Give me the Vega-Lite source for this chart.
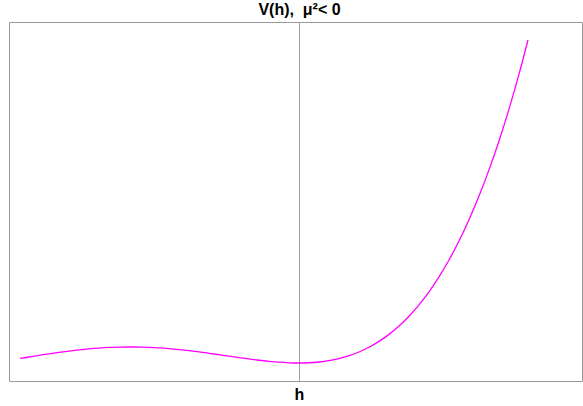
{
  "$schema": "https://vega.github.io/schema/vega-lite/v6.json",
  "autosize": "none",
  "width": 573,
  "height": 359,
  "padding": {"left": 9, "top": 22, "right": 1, "bottom": 25},
  "background": "white",
  "title": {"text": "V(h),\u00a0\u00a0μ²< 0", "font": "Liberation Sans", "fontSize": 16, "fontWeight": "bold", "color": "black", "offset": 4, "anchor": "middle", "dx": 4},
  "config": {"view": {"stroke": "#9a9a9a", "strokeWidth": 1}},
  "data": {"values": [
    {"h": -2.79, "V": 4.54}, {"h": -2.7, "V": 6.0}, {"h": -2.6, "V": 7.62}, {"h": -2.5, "V": 9.18},
    {"h": -2.4, "V": 10.64}, {"h": -2.3, "V": 11.97}, {"h": -2.2, "V": 13.15}, {"h": -2.1, "V": 14.15},
    {"h": -2.0, "V": 14.94}, {"h": -1.9, "V": 15.53}, {"h": -1.8, "V": 15.89}, {"h": -1.7, "V": 16.02},
    {"h": -1.6, "V": 15.93}, {"h": -1.5, "V": 15.61}, {"h": -1.4, "V": 15.07}, {"h": -1.3, "V": 14.33},
    {"h": -1.2, "V": 13.41}, {"h": -1.1, "V": 12.31}, {"h": -1.0, "V": 11.07}, {"h": -0.9, "V": 9.73},
    {"h": -0.8, "V": 8.32}, {"h": -0.7, "V": 6.86}, {"h": -0.6, "V": 5.41}, {"h": -0.5, "V": 4.04},
    {"h": -0.4, "V": 2.76}, {"h": -0.3, "V": 1.66}, {"h": -0.2, "V": 0.79}, {"h": -0.1, "V": 0.21},
    {"h": 0.0, "V": 0.0}, {"h": 0.1, "V": 0.23}, {"h": 0.2, "V": 0.99}, {"h": 0.3, "V": 2.36},
    {"h": 0.4, "V": 4.42}, {"h": 0.5, "V": 7.28}, {"h": 0.6, "V": 11.01}, {"h": 0.7, "V": 15.74},
    {"h": 0.8, "V": 21.58}, {"h": 0.9, "V": 28.61}, {"h": 1.0, "V": 36.96}, {"h": 1.1, "V": 46.77},
    {"h": 1.2, "V": 58.15}, {"h": 1.3, "V": 71.21}, {"h": 1.4, "V": 86.11}, {"h": 1.5, "V": 102.99},
    {"h": 1.6, "V": 121.97}, {"h": 1.7, "V": 143.22}, {"h": 1.8, "V": 166.89}, {"h": 1.9, "V": 193.11},
    {"h": 2.0, "V": 222.06}, {"h": 2.1, "V": 253.91}, {"h": 2.2, "V": 288.83}, {"h": 2.29, "V": 323.02}
  ]},
  "layer": [
    {
      "mark": {"type": "rule", "color": "#a0a0a0", "strokeWidth": 1, "xOffset": 0.5},
      "encoding": {"x": {"datum": 0, "type": "quantitative"}}
    },
    {
      "mark": {"type": "line", "color": "#ff00ff", "strokeWidth": 1.3, "interpolate": "monotone"},
      "encoding": {
        "x": {"field": "h", "type": "quantitative", "scale": {"domain": [-2.9, 2.83], "nice": false, "zero": false},
              "axis": {"title": "h", "labels": false, "ticks": false, "domain": false, "grid": false,
                       "titleFont": "Liberation Sans", "titleFontSize": 16, "titleFontWeight": "bold", "titleColor": "black",
                       "titlePadding": 5, "titleX": 290}},
        "y": {"field": "V", "type": "quantitative", "scale": {"domain": [-18, 341], "nice": false, "zero": false}, "axis": null}
      }
    }
  ]
}
